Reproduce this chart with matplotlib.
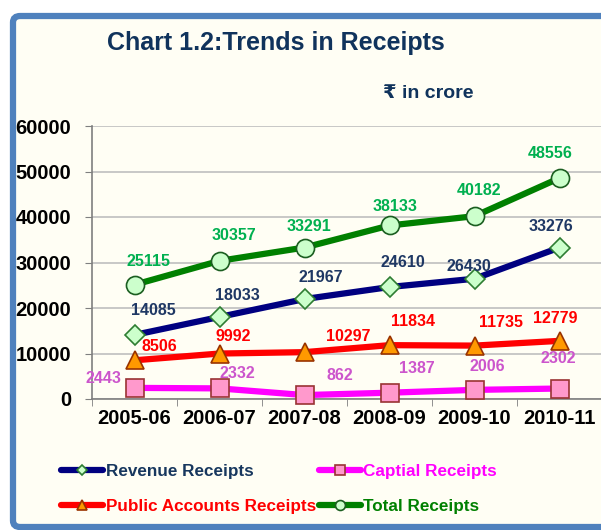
import matplotlib.pyplot as plt
from matplotlib.patches import FancyBboxPatch

years = ["2005-06", "2006-07", "2007-08", "2008-09", "2009-10", "2010-11"]
revenue = [14085, 18033, 21967, 24610, 26430, 33276]
capital = [2443, 2332, 862, 1387, 2006, 2302]
public = [8506, 9992, 10297, 11834, 11735, 12779]
total = [25115, 30357, 33291, 38133, 40182, 48556]

plt.rcParams["font.family"] = ["Liberation Sans", "DejaVu Sans"]

fig = plt.figure(figsize=(6.01, 5.30), dpi=100)
W, H = 601, 530

frame = FancyBboxPatch((13 / W, 3 / H), 700 / W, 511 / H,
                       boxstyle="round,pad=0,rounding_size=0.012",
                       transform=fig.transFigure, facecolor="#FFFEF4",
                       edgecolor="#4F81BD", linewidth=4.5, zorder=-10)
fig.patches.append(frame)

ax = fig.add_axes([92 / W, 1 - 399 / H, 510 / W, 273 / H])
ax.set_facecolor("none")
x = list(range(len(years)))

# label offsets in pixels (dx, dy) from each point
series = [
    (revenue, "Revenue Receipts", "#000080", "D", "#CCFFCC", "#2E7D32", 10, "#1F3864",
     [(19, 24), (18, 21), (16, 22), (13, 25), (-6, 12), (-9, 21)]),
    (capital, "Captial Receipts", "#FF00FF", "s", "#FF99CC", "#993333", 13, "#CC55CC",
     [(-31, 9), (18, 15), (35, 20), (27, 24), (13, 23), (-1, 30)]),
    (public, "Public Accounts Receipts", "#FF0000", "^", "#FF9900", "#993300", 13, "#FF0000",
     [(25, 14), (14, 17), (44, 16), (24, 24), (27, 23), (-4, 22)]),
    (total, "Total Receipts", "#008000", "o", "#CCFFCC", "#1B5E20", 13, "#00B050",
     [(14, 23), (14, 25), (4, 21), (6, 19), (5, 26), (-9, 25)]),
]

handles = {}
for vals, name, col, mk, mfc, mec, ms, tcol, offs in series:
    (h,) = ax.plot(x, vals, color=col, linewidth=4.5, marker=mk, markersize=ms,
                   markerfacecolor=mfc, markeredgecolor=mec, markeredgewidth=1.2,
                   label=name, zorder=3, clip_on=False, solid_capstyle="round")
    handles[name] = h
    for xi, v, (dx, dy) in zip(x, vals, offs):
        ax.annotate(str(v), (xi, v), xytext=(dx, dy), textcoords="offset pixels",
                    ha="center", va="center", color=tcol, fontsize=11.5,
                    fontweight="bold", zorder=4)

ax.set_xlim(-0.5, 5.5)
ax.set_ylim(0, 60000)
ax.set_yticks(range(0, 60001, 10000))
ax.set_xticks(x)
ax.set_xticklabels(years)
ax.set_xticks([i - 0.5 for i in range(7)], minor=True)
ax.tick_params(axis="x", which="major", length=0, pad=7, labelsize=14.5)
ax.tick_params(axis="x", which="minor", length=5, color="#7F7F7F")
ax.tick_params(axis="y", length=5, color="#7F7F7F", labelsize=14.5, pad=10)
for lbl in ax.get_xticklabels() + ax.get_yticklabels():
    lbl.set_fontweight("bold")
ax.grid(axis="y", color="#BFBFBF", linewidth=1.2)
ax.set_axisbelow(True)
for s in ["top", "right"]:
    ax.spines[s].set_visible(False)
for s in ["left", "bottom"]:
    ax.spines[s].set_color("#7F7F7F")
    ax.spines[s].set_linewidth(1.2)

fig.text(107 / W, 1 - 43 / H, "Chart 1.2:Trends in Receipts", fontsize=18,
         fontweight="bold", color="#10335C", va="center", ha="left")
fig.text(383 / W, 1 - 93 / H, "₹ in crore", fontsize=14, fontweight="bold",
         color="#10335C", va="center", ha="left")

order = ["Revenue Receipts", "Public Accounts Receipts", "Captial Receipts", "Total Receipts"]
text_cols = ["#17375E", "#FF0000", "#FF00FF", "#008000"]
leg = fig.legend([handles[n] for n in order], order, ncol=2, loc="upper left",
                 bbox_to_anchor=(46 / W, 1 - 449 / H), frameon=False,
                 handlelength=2.45, handletextpad=0.15, columnspacing=0.17,
                 labelspacing=1.15, markerscale=0.55, prop={"weight": "bold", "size": 12.3},
                 labelcolor=text_cols)

fig.savefig("out.png", dpi=100)
